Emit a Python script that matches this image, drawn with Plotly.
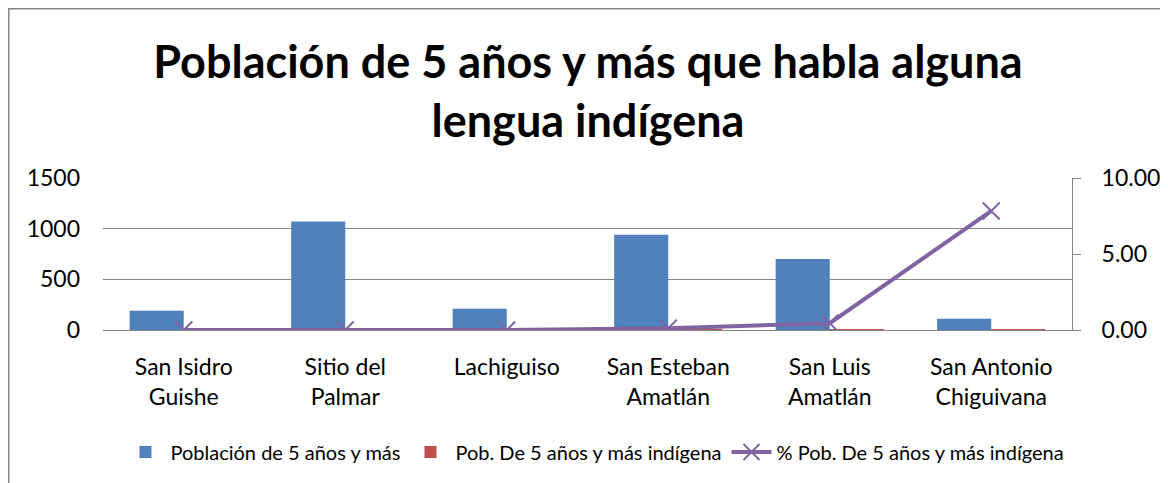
import plotly.graph_objects as go

categories = ["San Isidro<br>Guishe", "Sitio del<br>Palmar", "Lachiguiso", "San Esteban<br>Amatlán", "San Luis<br>Amatlán", "San Antonio<br>Chiguivana"]
poblacion = [190, 1070, 210, 940, 700, 110]
pob_indigena = [0, 0, 0, 1, 3, 9]
pct_indigena = [0.0, 0.0, 0.0, 0.11, 0.45, 7.83]

FONT = "Lato, Calibri, Carlito, sans-serif"

fig = go.Figure()
fig.add_trace(go.Bar(x=categories, y=poblacion, name="Población de 5 años y más",
                     marker=dict(color="#4F81BD", line=dict(width=0))))
fig.add_trace(go.Bar(x=categories, y=pob_indigena, name="Pob. De 5 años y más indígena",
                     marker=dict(color="#C0504D", line=dict(width=0))))
fig.add_trace(go.Scatter(x=categories, y=pct_indigena, name="% Pob. De 5 años y más indígena",
                         mode="lines+markers", yaxis="y2",
                         line=dict(color="#8064A2", width=4),
                         marker=dict(symbol="x-thin", size=17, line=dict(color="#8064A2", width=2))))

OFF = 8  # page body offset
W, H = 1168 - OFF, 483 - OFF
L, R, T, B = 103 - OFF, 1072 - OFF, 178 - OFF, 330 - OFF
pw, ph = R - L, B - T

def px_x(px):
    return (px - OFF - L) / pw

def px_y(py):
    return (B - (py - OFF)) / ph

fig.update_layout(
    width=W, height=H,
    margin=dict(l=L, r=W - R, t=T, b=H - B, pad=0, autoexpand=False),
    paper_bgcolor="white", plot_bgcolor="white",
    font=dict(family=FONT, color="black"),
    title=dict(text="<b>Población de 5 años y más que habla alguna<br>lengua indígena</b>",
               x=0.5, xanchor="center", y=1 - (78 - OFF) / H, yanchor="middle",
               font=dict(size=45, family=FONT, color="black")),
    barmode="group", bargap=0.33, bargroupgap=0,
    showlegend=True,
    legend=dict(orientation="h", xref="container", yref="container",
                x=(595 - OFF) / W, xanchor="center", y=1 - (452 - OFF) / H, yanchor="middle",
                font=dict(size=20, family=FONT), traceorder="normal", itemwidth=40),
    xaxis=dict(showline=True, linecolor="#868686", linewidth=1, ticks="",
               tickfont=dict(size=23, family=FONT), showgrid=False, ticklabelstandoff=16),
    yaxis=dict(range=[0, 1500], tickvals=[0, 500, 1000, 1500], showgrid=True,
               gridcolor="#868686", gridwidth=1, zeroline=False, showline=False,
               tickfont=dict(size=23, family=FONT), ticks="", ticklabelstandoff=22),
    yaxis2=dict(range=[0, 10], tickvals=[0, 5, 10], tickformat=".2f", overlaying="y",
                side="right", showgrid=False, zeroline=False, showline=True,
                linecolor="#868686", linewidth=1, ticks="outside", ticklen=8,
                tickcolor="#868686", tickfont=dict(size=23, family=FONT), ticklabelstandoff=16),
    shapes=[dict(type="rect", xref="paper", yref="paper",
                 x0=px_x(8.8), x1=px_x(1180), y0=px_y(495), y1=px_y(8.8),
                 line=dict(color="#868686", width=1.5), fillcolor="rgba(0,0,0,0)", layer="below")],
)

fig.write_html("out.html")
